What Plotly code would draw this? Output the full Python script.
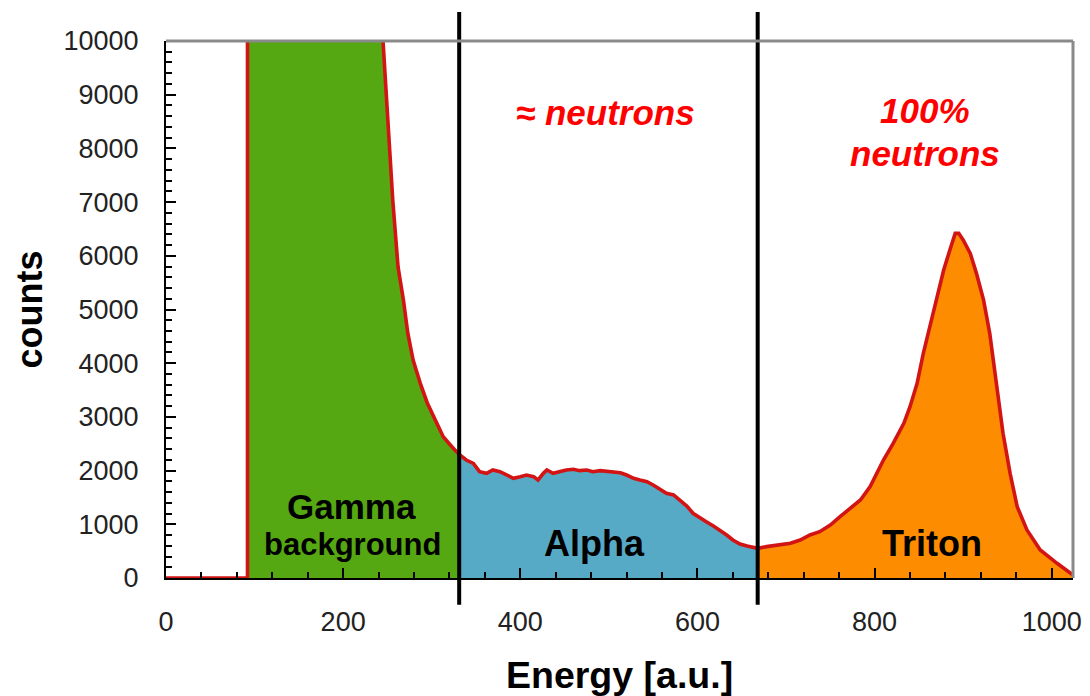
import plotly.graph_objects as go

# ---- data ----
gamma_energy = [92, 150, 200, 245, 256, 259, 262, 268, 273, 279, 287, 295, 304, 313, 323, 331]
gamma_counts = [52000, 30000, 16000, 10000, 7040, 6425, 5790, 5180, 4560, 4060, 3630, 3260, 2940, 2630, 2440, 2300]

alpha_energy = [331, 339, 347, 354, 362, 369, 377, 385, 392, 400, 407, 415, 420, 426, 430, 437,
                445, 452, 460, 467, 475, 482, 490, 498, 505, 513, 520, 528, 535, 543, 550, 558,
                565, 573, 580, 588, 595, 603, 610, 618, 625, 633, 640, 648, 656, 668]
alpha_counts = [2300, 2197, 2135, 1980, 1949, 2011, 1980, 1918, 1856, 1887, 1918, 1887, 1825, 1949, 2011, 1949,
                1980, 2011, 2024, 1999, 2011, 1980, 1999, 1980, 1980, 1961, 1918, 1856, 1825, 1794, 1732, 1639,
                1577, 1546, 1453, 1341, 1205, 1112, 1049, 968, 894, 801, 708, 633, 596, 553]

triton_energy = [668, 678, 690, 705, 716, 727, 738, 750, 761, 772, 784, 795, 802, 810, 821, 833,
                 840, 848, 855, 863, 870, 878, 885, 891, 895, 900, 908, 915, 923, 930, 938, 945,
                 953, 961, 972, 987, 1006, 1024]
triton_counts = [553, 584, 615, 646, 708, 801, 863, 987, 1142, 1297, 1453, 1701, 1949, 2197, 2508, 2880,
                 3190, 3626, 4184, 4743, 5238, 5735, 6108, 6418, 6418, 6294, 6046, 5673, 5177, 4556, 3563, 2694,
                 1949, 1328, 894, 521, 274, 56]

baseline_energy = [0, 91, 92]
baseline_counts = [0, 0, 0]

region_bounds = [331, 668]
x_ticks = [0, 200, 400, 600, 800, 1000]
y_ticks = [0, 1000, 2000, 3000, 4000, 5000, 6000, 7000, 8000, 9000, 10000]

FONT = "Arial, 'Liberation Sans', sans-serif"

fig = go.Figure()

for xs, ys, col in [(gamma_energy, gamma_counts, "#56a812"),
                    (alpha_energy, alpha_counts, "#57aac6"),
                    (triton_energy, triton_counts, "#fd8c00")]:
    fig.add_trace(go.Scatter(x=xs, y=ys, mode="lines", fill="tozeroy",
                             fillcolor=col, line=dict(width=0, color=col),
                             hoverinfo="skip", showlegend=False))

all_x = baseline_energy + gamma_energy + alpha_energy[1:] + triton_energy[1:]
all_y = baseline_counts + gamma_counts + alpha_counts[1:] + triton_counts[1:]

fig.add_trace(go.Scatter(x=all_x, y=all_y, mode="lines",
                         line=dict(color="#d21414", width=3.6),
                         showlegend=False))

# region separators
for xb in region_bounds:
    fig.add_shape(type="line", xref="x", yref="paper", x0=xb, x1=xb, y0=-0.05, y1=1.054,
                  line=dict(color="black", width=4), layer="above")

# grey top and right frame
fig.add_shape(type="line", xref="paper", yref="paper", x0=0, x1=1, y0=1, y1=1,
              line=dict(color="#8a8a8a", width=3), layer="above")
fig.add_shape(type="line", xref="paper", yref="paper", x0=1, x1=1, y0=0, y1=1,
              line=dict(color="#8a8a8a", width=3), layer="above")

# labels
fig.add_annotation(x=209, y=1330, text="<b>Gamma</b>", showarrow=False,
                   font=dict(family=FONT, size=35, color="black"))
fig.add_annotation(x=211, y=620, text="<b>background</b>", showarrow=False,
                   font=dict(family=FONT, size=31, color="black"))
fig.add_annotation(x=484, y=650, text="<b>Alpha</b>", showarrow=False,
                   font=dict(family=FONT, size=36, color="black"))
fig.add_annotation(x=865, y=650, text="<b>Triton</b>", showarrow=False,
                   font=dict(family=FONT, size=36, color="black"))
fig.add_annotation(x=496, y=8670, text="<b><i>≈ neutrons</i></b>", showarrow=False,
                   font=dict(family=FONT, size=35, color="#ff0000"))
fig.add_annotation(x=857, y=8715, text="<b><i>100%</i></b>", showarrow=False,
                   font=dict(family=FONT, size=35, color="#ff0000"))
fig.add_annotation(x=857, y=7905, text="<b><i>neutrons</i></b>", showarrow=False,
                   font=dict(family=FONT, size=35, color="#ff0000"))

# axis titles
fig.add_annotation(xref="paper", yref="paper", x=0.5, y=-0.18, yanchor="middle",
                   text="<b>Energy [a.u.]</b>", showarrow=False,
                   font=dict(family=FONT, size=37.5, color="black"))
fig.add_annotation(xref="paper", yref="paper", x=-0.15, y=0.5, xanchor="center",
                   text="<b>counts</b>", showarrow=False, textangle=-90,
                   font=dict(family=FONT, size=36, color="black"))

fig.update_xaxes(range=[0, 1024], tickvals=x_ticks, ticks="inside", ticklen=10, tickwidth=2,
                 tickcolor="black", showline=True, linecolor="black", linewidth=2,
                 showgrid=False, zeroline=False, ticklabelstandoff=19, automargin=False,
                 tickfont=dict(family=FONT, size=27, color="#222222"),
                 minor=dict(dtick=40, tick0=0, ticks="inside", ticklen=6, tickwidth=1.5,
                            tickcolor="black", showgrid=False))
fig.update_yaxes(range=[0, 10000], tickvals=y_ticks, tickformat="d", ticks="inside", ticklen=10,
                 tickwidth=2, tickcolor="black", showline=True, linecolor="black", linewidth=2,
                 showgrid=False, zeroline=False, ticklabelstandoff=20, automargin=False,
                 tickfont=dict(family=FONT, size=27, color="#222222"),
                 minor=dict(dtick=200, tick0=0, ticks="inside", ticklen=6, tickwidth=1.5,
                            tickcolor="black", showgrid=False))

# page body has an 8px margin, so the figure is offset by 8px
fig.update_layout(width=1082, height=688, margin=dict(l=158, r=17, t=33, b=118),
                  plot_bgcolor="white", paper_bgcolor="white", showlegend=False)

fig.write_html("out.html")
